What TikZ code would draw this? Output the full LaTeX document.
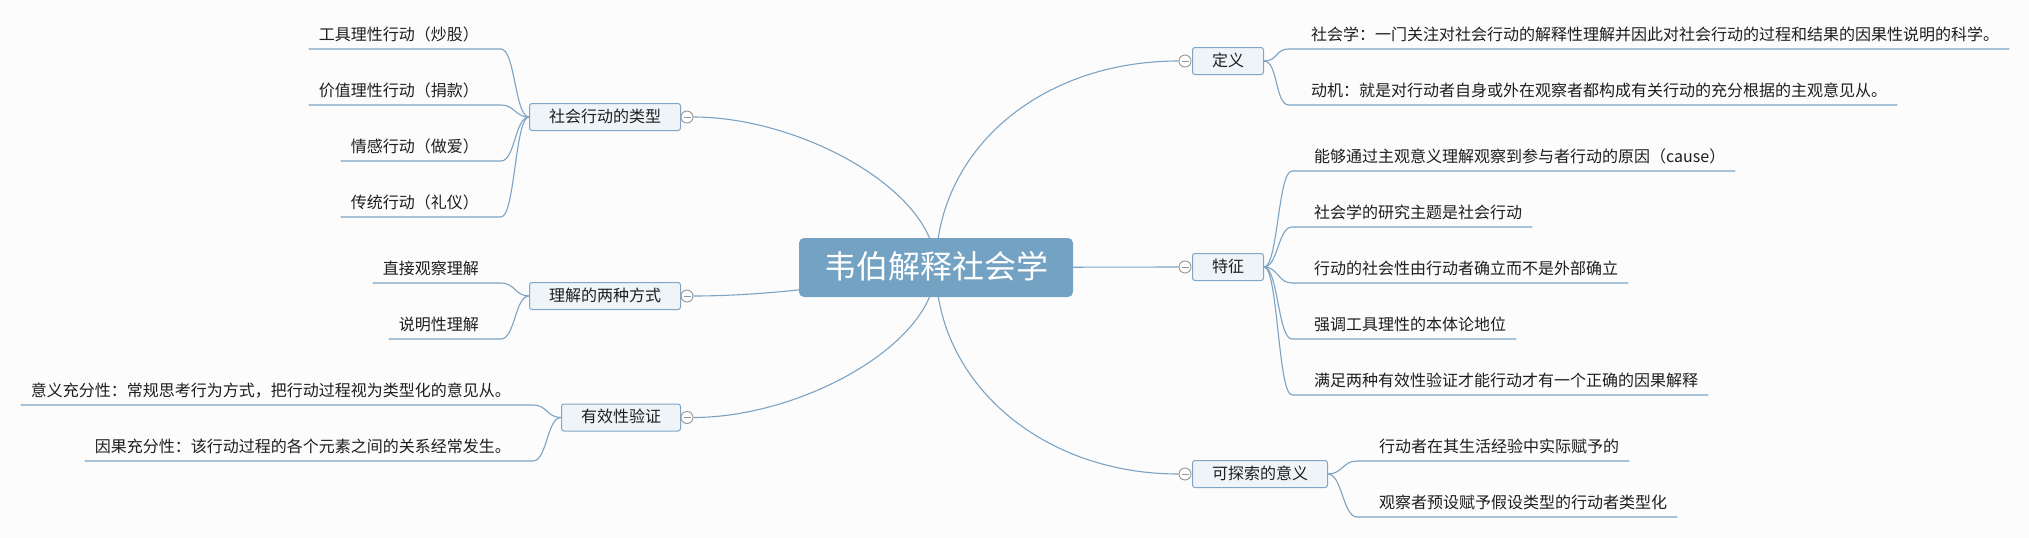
\documentclass[tikz,border=0pt]{standalone}
\usepackage{fontspec}
\newfontfamily\cjk{Noto Sans CJK SC}
\usetikzlibrary{backgrounds}
\definecolor{bgc}{RGB}{252,252,252}
\definecolor{linkc}{RGB}{124,163,196}
\definecolor{rootc}{RGB}{116,162,194}
\definecolor{boxfill}{RGB}{239,244,248}
\definecolor{boxline}{RGB}{128,165,198}
\definecolor{txtc}{RGB}{30,30,30}
\definecolor{markc}{RGB}{150,150,150}
\tikzset{
  link/.style={draw=linkc, line width=1.1pt},
  rootbox/.style={rectangle, rounded corners=5pt, fill=rootc, draw=none, text=white,
    font=\cjk\fontsize{32}{36}\selectfont, inner xsep=25pt, minimum height=59pt,
    text height=26pt, text depth=4pt},
  topicbox/.style={rectangle, rounded corners=2.5pt, fill=boxfill, draw=boxline, line width=1pt,
    text=txtc, font=\cjk\fontsize{16}{19}\selectfont, inner xsep=19.5pt, minimum height=27pt,
    text height=12pt, text depth=2pt},
  leaf/.style={text=txtc, font=\cjk\fontsize{16}{19}\selectfont, inner xsep=10pt, inner ysep=5pt,
    text height=13pt, text depth=3pt},
  marker/.style={circle, draw=markc, fill=white, line width=0.9pt, minimum size=12pt, inner sep=0pt},
}
\newcommand{\minusmark}[1]{\draw[markc, line width=0.9pt] ([xshift=-3.5pt]#1.center) -- ([xshift=3.5pt]#1.center);}
\begin{document}
\begin{tikzpicture}[x=1pt,y=-1pt]
\useasboundingbox (0,0) rectangle (2029,538);
% root
\node[rootbox] (m) at (936,267.5) {韦伯解释社会学};
% topic boxes
\node[topicbox, anchor=east] (bs) at (681,117) {社会行动的类型};
\node[topicbox, anchor=east] (bu) at (681,296) {理解的两种方式};
\node[topicbox, anchor=east] (bv) at (681,417.5) {有效性验证};
\node[topicbox, anchor=west] (bd) at (1192,61) {定义};
\node[topicbox, anchor=west] (bt) at (1192,267) {特征};
\node[topicbox, anchor=west] (bk) at (1192,474) {可探索的意义};
% markers
\node[marker] (cs) at (687,117) {};
\node[marker] (cu) at (687,296) {};
\node[marker] (cv) at (687,417.5) {};
\node[marker] (cd) at (1185,61) {};
\node[marker] (ct) at (1185,267) {};
\node[marker] (ck) at (1185,474) {};
\minusmark{cs}\minusmark{cu}\minusmark{cv}\minusmark{cd}\minusmark{ct}\minusmark{ck}
% left leaves
\node[leaf, anchor=south east] (s1) at (489,49) {工具理性行动（炒股）};
\node[leaf, anchor=south east] (s2) at (489,105) {价值理性行动（捐款）};
\node[leaf, anchor=south east] (s3) at (489,161) {情感行动（做爱）};
\node[leaf, anchor=south east] (s4) at (489,217) {传统行动（礼仪）};
\node[leaf, anchor=south east] (u1) at (489,283) {直接观察理解};
\node[leaf, anchor=south east] (u2) at (489,339) {说明性理解};
\node[leaf, anchor=south east] (v1) at (521,405) {意义充分性：常规思考行为方式，把行动过程视为类型化的意见从。};
\node[leaf, anchor=south east] (v2) at (521,461) {因果充分性：该行动过程的各个元素之间的关系经常发生。};
% right leaves
\node[leaf, anchor=south west] (d1) at (1301,49) {社会学：一门关注对社会行动的解释性理解并因此对社会行动的过程和结果的因果性说明的科学。};
\node[leaf, anchor=south west] (d2) at (1301,105) {动机：就是对行动者自身或外在观察者都构成有关行动的充分根据的主观意见从。};
\node[leaf, anchor=south west] (t1) at (1304,171) {能够通过主观意义理解观察到参与者行动的原因（cause）};
\node[leaf, anchor=south west] (t2) at (1304,227) {社会学的研究主题是社会行动};
\node[leaf, anchor=south west] (t3) at (1304,283) {行动的社会性由行动者确立而不是外部确立};
\node[leaf, anchor=south west] (t4) at (1304,339) {强调工具理性的本体论地位};
\node[leaf, anchor=south west] (t5) at (1304,395) {满足两种有效性验证才能行动才有一个正确的因果解释};
\node[leaf, anchor=south west] (k1) at (1369,461) {行动者在其生活经验中实际赋予的};
\node[leaf, anchor=south west] (k2) at (1369,517) {观察者预设赋予假设类型的行动者类型化};
\begin{scope}[on background layer]
\fill[bgc] (0,0) rectangle (2029,538);
% root branches
\draw[link] (m.center) .. controls +(0,-77) and +(107,0) .. (cs.east);
\draw[link] (m.center) .. controls +(-56,13) and +(87,0) .. (cu.east);
\draw[link] (m.center) .. controls +(0,77) and +(107,0) .. (cv.east);
\draw[link] (m.center) .. controls +(0,-117) and +(-139,0) .. (cd.west);
\draw[link] (m.center) -- (ct.west);
\draw[link] (m.center) .. controls +(0,113) and +(-139,0) .. (ck.west);
% left leaf links
\foreach \c/\p in {s1/bs,s2/bs,s3/bs,s4/bs,u1/bu,u2/bu,v1/bv,v2/bv}{
  \draw[link] (\c.south west) -- (\c.south east) -- ++(12,0) .. controls +(14,0) and +(-14,0) .. (\p.west);
}
% right leaf links
\foreach \c/\p in {d1/bd,d2/bd,t1/bt,t2/bt,t3/bt,t4/bt,t5/bt,k1/bk,k2/bk}{
  \draw[link] (\p.east) .. controls +(14,0) and +(-14,0) .. ([xshift=-12pt]\c.south west) -- (\c.south east);
}
\end{scope}
\end{tikzpicture}
\end{document}
